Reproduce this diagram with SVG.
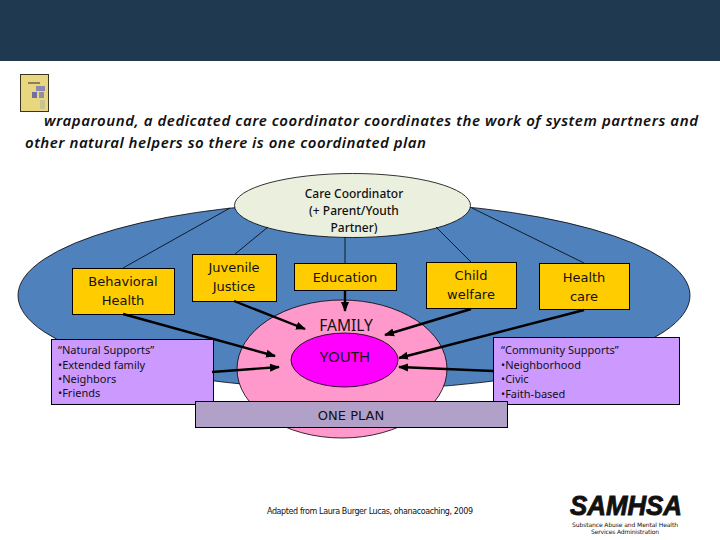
<svg xmlns="http://www.w3.org/2000/svg" width="720" height="540" viewBox="0 0 720 540">
<style>
text{font-family:"DejaVu Sans","Liberation Sans",sans-serif;fill:#111}
.box{fill:#ffcc00;stroke:#000;stroke-width:1}
.sup{fill:#cc99ff;stroke:#000;stroke-width:1}
.l{font-size:13px;text-anchor:middle}
.s{font-size:11px;font-family:"Noto Sans","Liberation Sans",sans-serif}
.thin{stroke:#000;stroke-width:.8;fill:none}
.arr{stroke:#000;stroke-width:2.4;fill:none;marker-end:url(#a)}
.h{font-size:15px;font-style:italic;font-weight:600;font-family:"Noto Sans","Liberation Sans",sans-serif}
</style>
<defs><marker id="a" markerUnits="userSpaceOnUse" markerWidth="12" markerHeight="10" refX="9" refY="4.5" orient="auto"><path d="M0 0.500L10 4.500L0 8.500z" fill="#000"/></marker></defs>
<rect id="header" width="720" height="61" fill="#1f3a50"/>
<g id="icon"><rect x="20.500" y="74.500" width="28" height="37" fill="#e8d77f" stroke="#3a3520"/><rect x="36" y="86" width="9" height="5" fill="#8f88b0"/><rect x="32" y="92" width="5" height="6" fill="#6f6fa0"/><rect x="39" y="92" width="5" height="6" fill="#8f8fa8"/><rect x="28" y="82" width="12" height="2" fill="#8a8060"/><rect x="40" y="100" width="5" height="9" fill="#c9c490"/></g>
<text class="h" x="44" y="126" textLength="654" lengthAdjust="spacing">wraparound, a dedicated care coordinator coordinates the work of system partners and</text>
<text class="h" x="25" y="148" textLength="401" lengthAdjust="spacing">other natural helpers so there is one coordinated plan</text>
<ellipse id="blue" cx="354" cy="295.500" rx="336" ry="94" fill="#4f81bd" stroke="#000" stroke-width=".8"/>
<g id="family"><ellipse cx="342" cy="369" rx="105" ry="69" fill="#ff99cc" stroke="#000" stroke-width=".8"/><text x="346" y="331" font-size="15.500" text-anchor="middle" style="font-family:'Noto Sans',sans-serif">FAMILY</text></g>
<g id="youth"><ellipse cx="344.500" cy="360" rx="53.500" ry="27" fill="#ff00ff" stroke="#000" stroke-width=".8"/><text x="345" y="362" font-size="15" text-anchor="middle" style="font-family:'Noto Sans',sans-serif">YOUTH</text></g>
<g id="coordinator"><ellipse cx="352.500" cy="205.500" rx="118" ry="32" fill="#ebf0de" stroke="#000" stroke-width=".8"/><text text-anchor="middle" font-size="12" font-weight="500" style="font-family:'Noto Sans',sans-serif"><tspan x="354" y="198">Care Coordinator</tspan><tspan x="354" y="215">(+ Parent/Youth</tspan><tspan x="354" y="232">Partner)</tspan></text></g>
<g id="behavioral"><rect class="box" x="72.500" y="268.500" width="102" height="46"/><text class="l"><tspan x="123" y="286">Behavioral</tspan><tspan x="123" y="305">Health</tspan></text></g>
<g id="juvenile"><rect class="box" x="192.500" y="254.500" width="84" height="47"/><text class="l"><tspan x="234" y="272">Juvenile</tspan><tspan x="234" y="291">Justice</tspan></text></g>
<g id="education"><rect class="box" x="294.500" y="263.500" width="102" height="27"/><text class="l" x="345" y="282">Education</text></g>
<g id="child"><rect class="box" x="426.500" y="262.500" width="90" height="46"/><text class="l"><tspan x="471" y="280">Child</tspan><tspan x="471" y="299">welfare</tspan></text></g>
<g id="health"><rect class="box" x="539.500" y="263.500" width="90" height="46"/><text class="l"><tspan x="584" y="282">Health</tspan><tspan x="584" y="301">care</tspan></text></g>
<g id="natural"><rect class="sup" x="51.500" y="339.500" width="162" height="65"/><text class="s"><tspan x="58" y="354">“Natural Supports”</tspan><tspan x="58" y="369">•Extended family</tspan><tspan x="58" y="383">•Neighbors</tspan><tspan x="58" y="397">•Friends</tspan></text></g>
<g id="community"><rect class="sup" x="493.500" y="337.500" width="186" height="67"/><text class="s"><tspan x="501" y="354">“Community Supports”</tspan><tspan x="501" y="369">•Neighborhood</tspan><tspan x="501" y="383">•Civic</tspan><tspan x="501" y="398">•Faith-based</tspan></text></g>
<g id="connectors">
<path class="thin" d="M230 208L123 268M268 227L235 254M345 237V263M436 227L471 262M472 208L584 263"/>
<path class="arr" d="M123 314L275 356"/><path class="arr" d="M234 301L305 329"/><path class="arr" d="M345 290V311"/><path class="arr" d="M471 309L385 335"/><path class="arr" d="M584 310L399 358"/><path class="arr" d="M212 372L279 367"/><path class="arr" d="M493 371L399 367"/>
</g>
<g id="oneplan"><rect x="195.500" y="401.500" width="312" height="26" fill="#b1a0c7" stroke="#000"/><text x="351" y="420" font-size="13" text-anchor="middle">ONE PLAN</text></g>
<text x="370" y="514" font-size="8" text-anchor="middle" textLength="206">Adapted from Laura Burger Lucas, ohanacoaching, 2009</text>
<g id="samhsa"><text x="626" y="515" font-size="27" font-weight="bold" font-style="italic" text-anchor="middle" textLength="112" lengthAdjust="spacingAndGlyphs" stroke="#111" stroke-width=".9" style="font-family:'Liberation Sans',sans-serif">SAMHSA</text><text x="625" y="526.500" font-size="6" text-anchor="middle" textLength="106" fill="#444">Substance Abuse and Mental Health</text><text x="625" y="533.500" font-size="6" text-anchor="middle" textLength="68" fill="#444">Services Administration</text></g>
</svg>
